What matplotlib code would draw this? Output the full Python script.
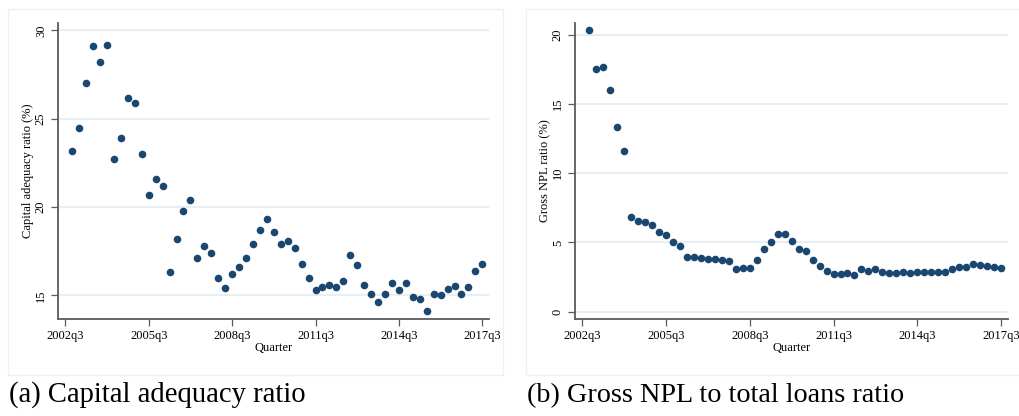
import matplotlib.pyplot as plt
from matplotlib.patches import Rectangle

plt.rcParams['font.family'] = ['Liberation Serif', 'DejaVu Serif']

# Quarterly series, 2002q4 .. 2017q3 (quarter index 1..60, 0 = 2002q3)
quarters = list(range(1, 61))

car = [23.2, 24.5, 27.0, 29.1, 28.2, 29.2, 22.7, 23.9, 26.2, 25.9,
       23.0, 20.7, 21.6, 21.2, 16.3, 18.2, 19.8, 20.4, 17.1, 17.8,
       17.4, 16.0, 15.4, 16.2, 16.6, 17.1, 17.9, 18.7, 19.3, 18.6,
       17.9, 18.1, 17.7, 16.8, 16.0, 15.3, 15.5, 15.6, 15.5, 15.8,
       17.3, 16.7, 15.6, 15.1, 14.6, 15.1, 15.7, 15.3, 15.7, 14.9,
       14.8, 14.1, 15.05, 15.0, 15.35, 15.55, 15.1, 15.5, 16.4, 16.8]

npl = [20.34, 17.5, 17.65, 16.03, 13.36, 11.63, 6.83, 6.56, 6.49, 6.27,
       5.79, 5.55, 5.05, 4.73, 3.92, 3.92, 3.87, 3.82, 3.77, 3.73,
       3.63, 3.06, 3.13, 3.13, 3.73, 4.55, 5.0, 5.6, 5.6, 5.14,
       4.56, 4.41, 3.76, 3.30, 2.94, 2.74, 2.74, 2.79, 2.67, 3.05,
       2.96, 3.05, 2.84, 2.79, 2.79, 2.84, 2.79, 2.89, 2.86, 2.86,
       2.89, 2.89, 3.08, 3.22, 3.22, 3.46, 3.39, 3.3, 3.2, 3.15]

xtick_pos = [0, 12, 24, 36, 48, 60]
xtick_labels = ['2002q3', '2005q3', '2008q3', '2011q3', '2014q3', '2017q3']

navy = '#1a476f'
grid_col = '#e8eff2'
axis_col = '#5a5a5a'

fig = plt.figure(figsize=(10.2, 4.16), dpi=100)

# faint graph-region borders
fig.add_artist(Rectangle((8 / 1020, 1 - 375 / 416), 495 / 1020, 366 / 416,
                         transform=fig.transFigure, fill=False,
                         edgecolor='#eef1f4', lw=1))
fig.add_artist(Rectangle((526 / 1020, 1 - 375 / 416), 500 / 1020, 366 / 416,
                         transform=fig.transFigure, fill=False,
                         edgecolor='#eef1f4', lw=1))


def stata_panel(rect, y, yticks, ylim, ylabel):
    ax = fig.add_axes(rect)
    ax.scatter(quarters, y, s=30, color=navy, zorder=3, linewidths=0)
    ax.set_xlim(-1.05, 60.96)
    ax.set_ylim(*ylim)
    ax.set_xticks(xtick_pos)
    ax.set_xticklabels(xtick_labels)
    ax.set_yticks(yticks)
    ax.set_yticklabels([str(t) for t in yticks], rotation=90, va='center')
    for t in yticks:
        ax.axhline(t, color=grid_col, lw=1.6, zorder=1)
    for side in ['top', 'right']:
        ax.spines[side].set_visible(False)
    for side in ['left', 'bottom']:
        ax.spines[side].set_color(axis_col)
        ax.spines[side].set_linewidth(1.3)
    ax.tick_params(direction='out', length=5, width=0.9, color=axis_col,
                   labelsize=9, pad=3)
    ax.set_xlabel('Quarter', fontsize=9, labelpad=0)
    ax.set_ylabel(ylabel, fontsize=9, labelpad=0.5)
    return ax


stata_panel([58 / 1020, 1 - 319 / 416, 431 / 1020, 296.3 / 416],
            car, [15, 20, 25, 30], (13.66, 30.44), 'Capital adequacy ratio (%)')
stata_panel([575 / 1020, 1 - 319.3 / 416, 432.7 / 1020, 296.6 / 416],
            npl, [0, 5, 10, 15, 20], (-0.55, 20.87), 'Gross NPL ratio (%)')

fig.text(9 / 1020, 1 - 402 / 416, '(a) Capital adequacy ratio',
         fontsize=20.6, va='baseline', ha='left')
fig.text(527 / 1020, 1 - 402 / 416, '(b) Gross NPL to total loans ratio',
         fontsize=20.3, va='baseline', ha='left')

fig.savefig('out.png', dpi=100)
